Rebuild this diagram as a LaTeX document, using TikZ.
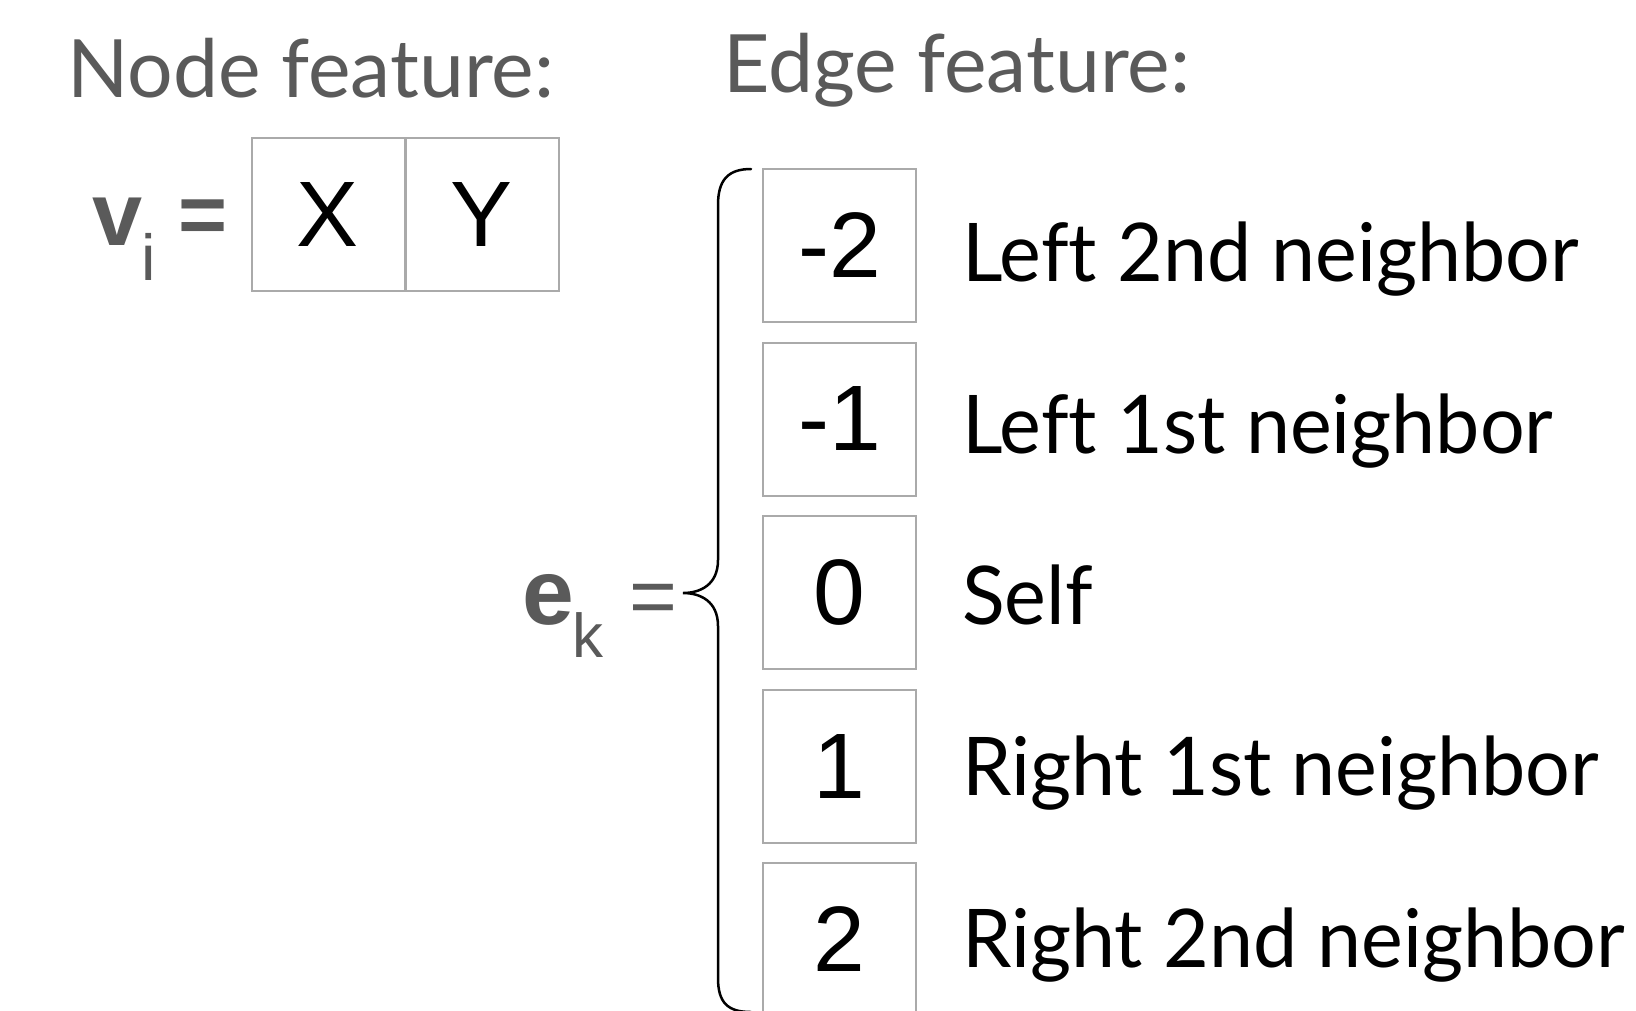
\documentclass[tikz,border=0pt]{standalone}
\usepackage{fontspec}
\newfontfamily\latolab[FakeStretch=0.975,Ligatures={NoCommon}]{Lato}
\newfontfamily\latotit[Ligatures={NoCommon}]{Lato}
\newfontfamily\arial{Liberation Sans}
\definecolor{txtgray}{HTML}{5A5A5A}
\definecolor{boxgray}{HTML}{AAAAAA}
\begin{document}
\begin{tikzpicture}[x=1pt,y=-1pt,
  title/.style={anchor=base west,inner sep=0pt,text=txtgray,font=\latotit\fontsize{80.5}{96}\selectfont},
  label/.style={anchor=base west,inner sep=0pt,text=black,font=\latolab\fontsize{81}{100}\selectfont},
  cell/.style={draw=boxgray,line width=2pt,minimum width=153pt,minimum height=153pt,inner sep=0pt,text=black,font=\arial\fontsize{93}{100}\selectfont},
  gsym/.style={anchor=base west,inner sep=0pt,text=txtgray},
]
\useasboundingbox (0,0) rectangle (1636,1010);
\clip (0,0) rectangle (1636,1010);
\fill[white] (0,0) rectangle (1636,1010);

\node[title] (nodetitle) at (67,97) {Node feature:};
\node[title] (edgetitle) at (723,92) {Edge feature:};

% node feature
\node[gsym,font=\arial\bfseries\fontsize{90}{100}\selectfont] (v) at (92,245) {v};
\node[gsym,font=\arial\fontsize{65}{70}\selectfont] (vi) at (141,280) {i};
\node[gsym,font=\arial\bfseries\fontsize{84}{100}\selectfont] (veq) at (178,243) {=};
\node[cell] (cx) at (328,214.5) {X};
\node[cell] (cy) at (482,214.5) {Y};

% edge feature
\node[gsym,font=\arial\bfseries\fontsize{93}{100}\selectfont] (e) at (522,624) {e};
\node[gsym,font=\arial\fontsize{62}{70}\selectfont] (ek) at (572,657) {k};
\node[gsym,font=\arial\fontsize{82}{100}\selectfont] (eeq) at (629,624) {=};

\node[cell] (b1) at (839.5,245.5) {-2};
\node[cell] (b2) at (839.5,419) {-1};
\node[cell] (b3) at (839.5,592.5) {0};
\node[cell] (b4) at (839.5,766) {1};
\node[cell] (b5) at (839.5,939.5) {2};

\node[label] (l1) at (962,281) {Left 2nd neighbor};
\node[label] (l2) at (962,453) {Left 1st neighbor};
\node[label] (l3) at (962,624) {Self};
\node[label] (l4) at (962,795) {Right 1st neighbor};
\node[label] (l5) at (962,967) {Right 2nd neighbor};

% brace
\coordinate (btop) at (751,169);
\coordinate (btip) at (683,593);
\coordinate (bbot) at (751,1012);
\draw[line width=2.5pt,line cap=round] (btop) .. controls (728,169) and (718,180) .. (718,205)
  -- (718,560) .. controls (718,585) and (700,593) .. (btip)
  .. controls (700,593) and (718,601) .. (718,626)
  -- (718,978) .. controls (718,1003) and (728,1012) .. (bbot);
\end{tikzpicture}
\end{document}
